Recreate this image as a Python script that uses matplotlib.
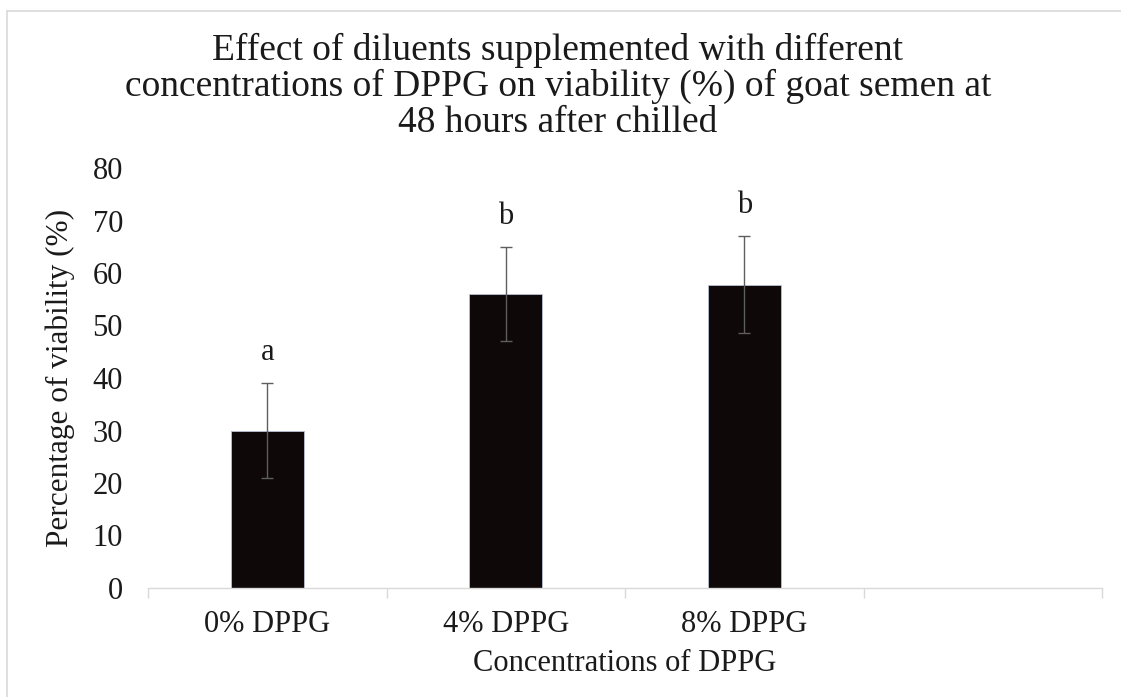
import matplotlib
matplotlib.use("Agg")
import matplotlib.pyplot as plt
from matplotlib.lines import Line2D
import numpy as np

# values
CATEGORIES = ["0% DPPG", "4% DPPG", "8% DPPG"]
VIABILITY = [30.0, 56.0, 57.8]
ERRORS = [9.1, 9.0, 9.3]
LETTERS = ["a", "b", "b"]
N_SLOTS = 4  # the Excel axis keeps one empty category on the right
Y_TICKS = list(range(0, 81, 10))

TITLE = ("Effect of diluents supplemented with different\n"
         "concentrations of DPPG on viability (%) of goat semen at\n"
         "48 hours after chilled")

SERIF = ["Liberation Serif", "DejaVu Serif"]
plt.rcParams["font.family"] = SERIF

fig = plt.figure(figsize=(11.21, 6.97), dpi=100)
ax = fig.add_axes([148 / 1121, 1 - 588 / 697, (1102 - 148) / 1121, (588 - 168) / 697])

x = np.arange(len(CATEGORIES))
ax.bar(x, VIABILITY, width=0.305, color="#0e0808", edgecolor="#b9bfd6", linewidth=0.6, zorder=2)
ax.errorbar(x, VIABILITY, yerr=ERRORS, fmt="none", ecolor="#5e5e5e", elinewidth=1.0,
            capsize=4.3, capthick=1.0, zorder=3)

for xi, v, e, lab in zip(x, VIABILITY, ERRORS, LETTERS):
    ax.annotate(lab, (xi, v + e), xytext=(0, 22), textcoords="offset points",
                ha="center", va="center", fontsize=22, color="#1a1a1a", family=SERIF)

ax.set_xlim(-0.5, N_SLOTS - 0.5)
ax.set_ylim(0, 80)
ax.set_yticks(Y_TICKS)
ax.set_xticks(x)
ax.set_xticklabels(CATEGORIES)
ax.set_xticks(np.arange(N_SLOTS + 1) - 0.5, minor=True)
ax.tick_params(axis="x", which="major", length=0, pad=16, labelsize=22, labelcolor="#1a1a1a")
ax.tick_params(axis="x", which="minor", length=7, color="#d9d9d9", width=1)
ax.tick_params(axis="y", length=0, pad=18, labelsize=22, labelcolor="#1a1a1a")

for side in ["top", "right", "left"]:
    ax.spines[side].set_visible(False)
ax.spines["bottom"].set_color("#d9d9d9")
ax.spines["bottom"].set_linewidth(1)

ax.set_ylabel("Percentage of viability (%)", fontsize=22.5, labelpad=13, color="#1a1a1a")
ax.set_xlabel("Concentrations of DPPG", fontsize=22, labelpad=7, color="#1a1a1a")

fig.text(558 / 1121, 1 - 86 / 697, TITLE, ha="center", va="center", family=SERIF,
         fontsize=27, linespacing=1.04, color="#1a1a1a")

# chart area frame
fig.add_artist(Line2D([7 / 1121, 7 / 1121], [0, 1 - 11 / 697], transform=fig.transFigure,
                      color="#d9d9d9", linewidth=1.2))
fig.add_artist(Line2D([7 / 1121, 1], [1 - 11 / 697, 1 - 11 / 697], transform=fig.transFigure,
                      color="#d9d9d9", linewidth=1.2))

fig.savefig("out.png", dpi=100)
